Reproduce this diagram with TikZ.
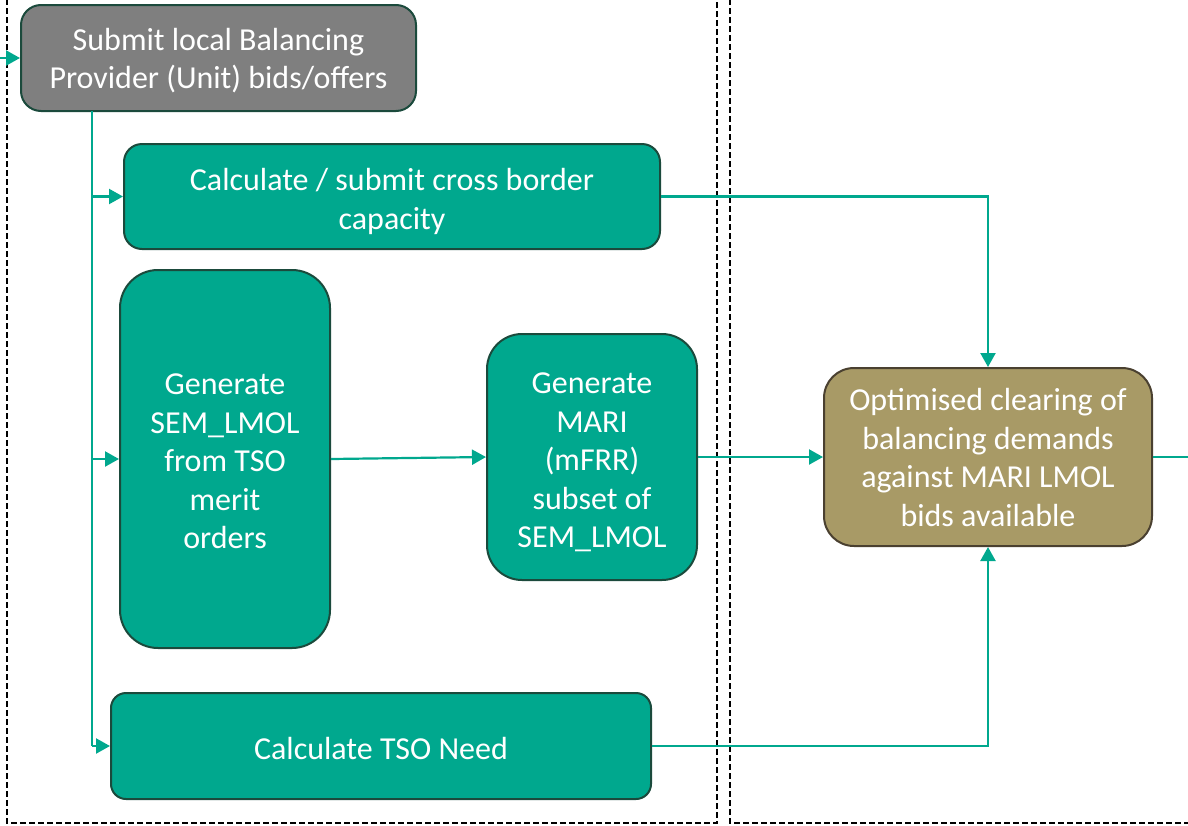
\documentclass[tikz,border=0pt]{standalone}
\usepackage{fontspec}
\setmainfont{Carlito}
\usetikzlibrary{arrows.meta,calc}
\definecolor{teal}{HTML}{00A88E}
\definecolor{tealdark}{HTML}{1B4A3C}
\definecolor{greybox}{HTML}{7F7F7F}
\definecolor{olive}{HTML}{A89A66}
\definecolor{olivedark}{HTML}{4A4030}
\newcommand\boxtxt[2][3pt]{\raisebox{-#1}[\height][\depth]{\begin{tabular}{@{}c@{}}#2\end{tabular}}}
\begin{document}
\begin{tikzpicture}[x=1pt,y=-1pt,
  box/.style={draw=tealdark, line width=2pt, fill=teal, text=white,
    inner sep=0pt, font=\fontsize{32}{38.5}\selectfont},
  conn/.style={draw=teal, line width=2.2pt, -{Triangle[length=14pt,width=15pt]}},
  plain/.style={draw=teal, line width=2.2pt},
  frame/.style={draw=black, line width=1.5pt, dash pattern=on 6pt off 3pt}]
\useasboundingbox (0,0) rectangle (1188,825);
\clip (0,0) rectangle (1188,825);
\draw[frame] (7,-10) rectangle (717,823);
\draw[frame] (730,-10) rectangle (1200,823);

\node[box, fill=greybox, rounded corners=20pt, minimum width=395pt, minimum height=106pt] (submit) at (218.5,58)
  {\boxtxt[4pt]{Submit local Balancing\\Provider (Unit) bids/offers}};
\node[box, rounded corners=18pt, minimum width=536pt, minimum height=105pt] (calc) at (392,196.5)
  {\boxtxt[6pt]{Calculate / submit cross border\\capacity}};
\node[box, rounded corners=38pt, minimum width=210pt, minimum height=378pt] (sem) at (225,459)
  {\boxtxt[5pt]{Generate\\SEM\_LMOL\\from TSO\\merit\\orders}};
\node[box, rounded corners=35pt, minimum width=210pt, minimum height=246pt] (mari) at (592,457)
  {\boxtxt[6pt]{Generate\\MARI\\(mFRR)\\subset of\\SEM\_LMOL}};
\node[box, draw=olivedark, fill=olive, rounded corners=30pt, minimum width=328pt, minimum height=178pt] (opt) at (988,457)
  {\boxtxt[4pt]{Optimised clearing of\\balancing demands\\against MARI LMOL\\bids available}};
\node[box, rounded corners=15pt, minimum width=540pt, minimum height=106pt] (tso) at (381,746)
  {\boxtxt[6pt]{Calculate TSO Need}};

\coordinate (in) at (0,58);
\coordinate (out) at (1188,457);
\coordinate (trunk) at (92,111);

\draw[conn] (in) -- (submit.west);
\draw[plain] (trunk) -- (trunk |- tso.west);
\draw[conn] (trunk |- tso.west) -- (tso.west);
\draw[conn] (trunk |- calc.west) -- (calc.west);
\draw[conn] (trunk |- sem.west) -- (sem.west);
\draw[conn] (sem.east) -- (mari.west);
\draw[conn] (mari.east |- opt.west) -- (opt.west);
\draw[conn] (calc.east) -| (opt.north);
\draw[conn] (tso.east) -| (opt.south);
\draw[plain] (opt.east) -- (out);
\end{tikzpicture}
\end{document}
